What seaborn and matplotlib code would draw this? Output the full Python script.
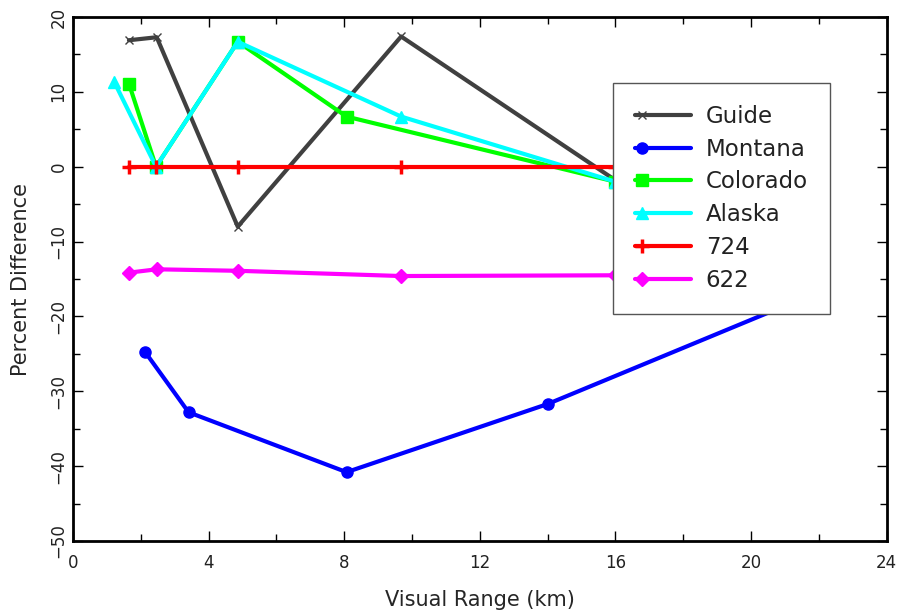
import numpy as np
import pandas as pd
import matplotlib
matplotlib.use('Agg')
import matplotlib.pyplot as plt
import seaborn as sns
from matplotlib.lines import Line2D
from matplotlib.legend_handler import HandlerLine2D
from matplotlib.ticker import MultipleLocator

# valores
guide_x = [1.65, 2.47, 4.86, 9.68, 16.0]
guide_y = [16.9, 17.3, -8.0, 17.4, -1.8]
montana_x = [2.12, 3.41, 8.07, 14.0, 22.0]
montana_y = [-24.7, -32.8, -40.8, -31.7, -16.7]
colorado_x = [1.65, 2.45, 4.86, 8.07, 16.0]
colorado_y = [11.1, 0.0, 16.7, 6.7, -2.0]
alaska_x = [1.22, 2.45, 4.86, 9.68, 16.0]
alaska_y = [11.3, 0.0, 16.7, 6.7, -2.0]
s724_x = [1.65, 2.45, 4.86, 9.68, 16.0]
s724_y = [0.0, 0.0, 0.0, 0.0, 0.0]
s622_x = [1.65, 2.47, 4.86, 9.68, 16.0]
s622_y = [-14.15, -13.7, -13.9, -14.6, -14.5]

series = [
    ('Guide', guide_x, guide_y, '#404040', 'x', 6, 1.0),
    ('Montana', montana_x, montana_y, '#0000ff', 'o', 8, 1.0),
    ('Colorado', colorado_x, colorado_y, '#00ff00', 's', 8, 1.0),
    ('Alaska', alaska_x, alaska_y, '#00ffff', '^', 9, 1.0),
    ('724', s724_x, s724_y, '#ff0000', '+', 10, 2.5),
    ('622', s622_x, s622_y, '#ff00ff', 'D', 7, 1.0),
]

sns.set_theme(style='ticks')
plt.rcParams['font.family'] = ['DejaVu Sans']
plt.rcParams['text.color'] = '#222222'

fig = plt.figure(figsize=(9, 6.15), dpi=100)
ax = fig.add_axes([0.0811, 0.1203, 0.904, 0.852])

for name, xs, ys, col, mk, ms, mew in series:
    df = pd.DataFrame({'x': xs, 'y': ys})
    sns.lineplot(data=df, x='x', y='y', ax=ax, color=col, marker=mk, markersize=ms,
                 markeredgecolor=col, markeredgewidth=mew, linewidth=3, sort=False,
                 label=name)

ax.set_xlim(0, 24)
ax.set_ylim(-50, 20)
ax.xaxis.set_major_locator(MultipleLocator(4))
ax.xaxis.set_minor_locator(MultipleLocator(2))
ax.yaxis.set_major_locator(MultipleLocator(10))
ax.yaxis.set_minor_locator(MultipleLocator(5))
ax.tick_params(which='both', direction='in', top=True, right=True, color='black', width=1)
ax.tick_params(which='major', length=7)
ax.tick_params(which='minor', length=5)
ax.tick_params(axis='x', labelsize=12, pad=9, labelcolor='#222222')
ax.tick_params(axis='y', labelsize=12, pad=4, labelrotation=90, labelcolor='#222222')
for lab in ax.get_yticklabels():
    lab.set_va('center')
for sp in ax.spines.values():
    sp.set_linewidth(2)
    sp.set_color('black')

ax.set_xlabel('Visual Range (km)', fontsize=15, labelpad=13)
ax.set_ylabel('Percent Difference', fontsize=15, labelpad=13)


class LeftMarker(HandlerLine2D):
    # marcador cerca del extremo izquierdo de la muestra
    def create_artists(self, legend, orig_handle, xdescent, ydescent, width, height, fontsize, trans):
        arts = super().create_artists(legend, orig_handle, xdescent, ydescent, width, height, fontsize, trans)
        for a in arts:
            xd = np.asarray(a.get_xdata(), dtype=float)
            if len(xd) == 3:
                a.set_xdata([xd[0], xd[0] + 0.12 * (xd[-1] - xd[0]), xd[-1]])
        return arts


handles, labels = ax.get_legend_handles_labels()
leg = ax.legend(handles, labels, loc='upper left', bbox_to_anchor=(613 / 900, 1 - 83 / 615),
                bbox_transform=fig.transFigure, borderaxespad=0, fontsize=16.5,
                fancybox=False, framealpha=1, edgecolor='#555555', borderpad=0.95,
                labelspacing=0.43, handlelength=2.45, handletextpad=0.65,
                handler_map={Line2D: LeftMarker()})
leg.get_frame().set_linewidth(1)

plt.savefig('out.png', dpi=100)
